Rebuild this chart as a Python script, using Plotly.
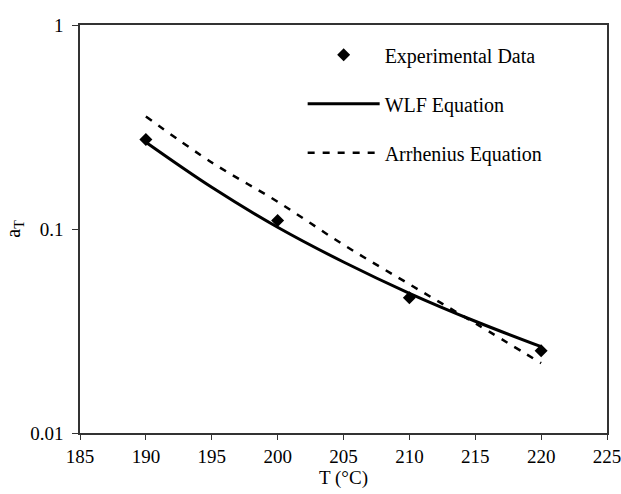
import plotly.graph_objects as go

# Data
exp_T = [190, 200, 210, 220]
exp_a = [0.275, 0.110, 0.046, 0.0253]

wlf_T = [190, 195, 200, 205, 210, 215, 220]
wlf_a = [0.266, 0.160, 0.102, 0.0689, 0.0484, 0.0353, 0.0265]

arr_T = [190, 195, 200, 205, 210, 215, 220]
arr_a = [0.356, 0.212, 0.136, 0.0837, 0.0536, 0.0345, 0.0220]

x_ticks = [185, 190, 195, 200, 205, 210, 215, 220, 225]
y_ticks = [0.01, 0.1, 1]
y_ticklabels = ["0.01", "0.1", "1"]

FONT = "Liberation Serif, Times New Roman, serif"

fig = go.Figure()
fig.add_trace(go.Scatter(x=exp_T, y=exp_a, mode="markers", name="Experimental Data",
                         legendgroup="a",
                         marker=dict(symbol="diamond", size=10, color="black")))
fig.add_trace(go.Scatter(x=wlf_T, y=wlf_a, mode="lines", name="WLF Equation",
                         legendgroup="b", line=dict(color="black", width=3, shape="spline")))
fig.add_trace(go.Scatter(x=arr_T, y=arr_a, mode="lines", name="Arrhenius Equation",
                         legendgroup="c", line=dict(color="black", width=2.5, dash="7px,8px", shape="spline")))

fig.update_layout(
    width=621, height=494,
    margin=dict(l=80, r=14, t=25, b=61),
    paper_bgcolor="white", plot_bgcolor="white",
    font=dict(family=FONT, size=19, color="black"),
    showlegend=True,
    legend=dict(x=0.4225, y=0.975, xanchor="left", yanchor="top",
                bgcolor="rgba(0,0,0,0)", itemwidth=72,
                traceorder="grouped", tracegroupgap=20,
                font=dict(family=FONT, size=20)),
    xaxis=dict(range=[185, 225], tickvals=x_ticks, showgrid=False, zeroline=False,
               showline=True, linecolor="#333", linewidth=1.5, mirror=True,
               ticks="outside", ticklen=5, tickcolor="#333", automargin=False,
               ticklabeloverflow="allow",
               tickfont=dict(size=19),
               title=dict(text="T (°C)", font=dict(size=19), standoff=2)),
    yaxis=dict(type="log", range=[-2, 0], tickvals=y_ticks, ticktext=y_ticklabels,
               showgrid=False, zeroline=False, automargin=False,
               showline=True, linecolor="#333", linewidth=1.5, mirror=True,
               ticks="outside", ticklen=6, tickcolor="#333",
               ticklabelstandoff=5,
               tickfont=dict(size=19),
               title=dict(text="a<sub>T</sub>", font=dict(size=20), standoff=4)),
)

fig.write_html("out.html")
